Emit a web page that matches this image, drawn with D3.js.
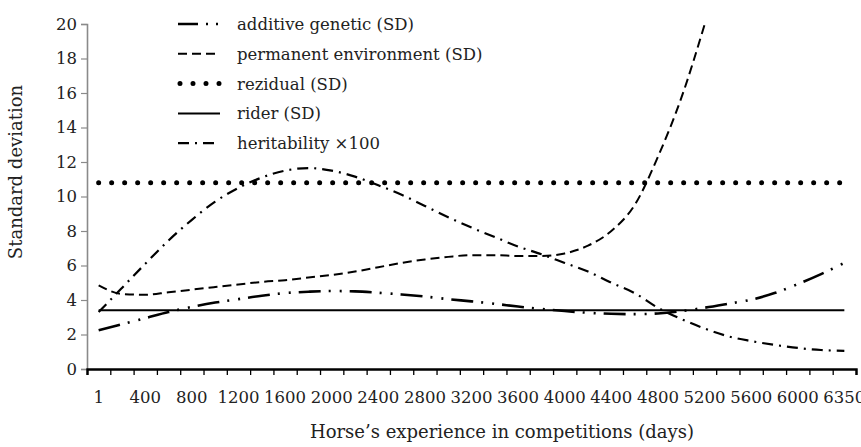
<!DOCTYPE html>
<html>
<head>
<meta charset="utf-8">
<script src="https://cdn.jsdelivr.net/npm/d3@7"></script>
<style>
  body { margin: 0; background: #fff; }
  text { font-family: "DejaVu Serif", serif; fill: #222; }
</style>
</head>
<body>
<div id="chart"></div>
<script>
// Horse experience vs standard deviation components
const categories = ["1", "200", "400", "600", "800", "1000", "1200", "1400", "1600", "1800",
  "2000", "2200", "2400", "2600", "2800", "3000", "3200", "3400", "3600", "3800",
  "4000", "4200", "4400", "4600", "4800", "5000", "5200", "5400", "5600", "5800",
  "6000", "6200", "6350"];
const xTickLabels = ["1", "400", "800", "1200", "1600", "2000", "2400", "2800", "3200", "3600",
  "4000", "4400", "4800", "5200", "5600", "6000", "6350"];
const yTicks = [0, 2, 4, 6, 8, 10, 12, 14, 16, 18, 20];

const additiveGenetic = [2.25, 2.6, 2.95, 3.3, 3.6, 3.85, 4.05, 4.25, 4.4, 4.48,
  4.52, 4.5, 4.42, 4.32, 4.2, 4.05, 3.92, 3.78, 3.62, 3.48,
  3.36, 3.26, 3.2, 3.18, 3.22, 3.35, 3.55, 3.78, 4.02, 4.4,
  4.92, 5.5, 6.15];
const permanentEnv = [4.85, 4.35, 4.3, 4.45, 4.6, 4.75, 4.9, 5.05, 5.15, 5.3,
  5.45, 5.65, 5.9, 6.15, 6.35, 6.5, 6.6, 6.6, 6.55, 6.55,
  6.7, 7.15, 8.0, 9.5, 12.3, 15.7, 19.95, null, null, null,
  null, null, null];
const residual = categories.map(() => 10.8);
const rider = categories.map(() => 3.4);
const heritability = [3.3, 4.7, 6.1, 7.45, 8.65, 9.7, 10.5, 11.1, 11.5, 11.65,
  11.5, 11.15, 10.65, 10.1, 9.45, 8.8, 8.2, 7.65, 7.1, 6.65,
  6.15, 5.65, 5.0, 4.4, 3.55, 2.9, 2.35, 1.9, 1.62, 1.4,
  1.22, 1.1, 1.05];

const series = [
  { name: "additive genetic (SD)", values: additiveGenetic, dash: "22 8 2 9 2 8", width: 2.6, cap: "butt" },
  { name: "permanent environment (SD)", values: permanentEnv, dash: "9 5", width: 2, cap: "butt" },
  { name: "rezidual (SD)", values: residual, dash: "0 13", width: 5, cap: "round" },
  { name: "rider (SD)", values: rider, dash: null, width: 2, cap: "butt" },
  { name: "heritability \u00d7100", values: heritability, dash: "11 6 2 6", width: 2.2, cap: "butt" }
];

const W = 861, H = 447;
const margin = { top: 24, right: 5, bottom: 78, left: 87 };
const width = W - margin.left - margin.right;
const height = H - margin.top - margin.bottom;
const fontSize = "16.5px";

const svgRoot = d3.select("#chart").append("svg")
  .attr("width", W)
  .attr("height", H);

const svg = svgRoot.append("g")
  .attr("transform", `translate(${margin.left},${margin.top})`);

const x = d3.scaleBand().domain(categories).range([0, width]).padding(0);
const xEdge = d3.scaleLinear().domain([0, categories.length]).range([0, width]);
const y = d3.scaleLinear().domain([0, 20]).range([height, 0]);

// y axis (grey)
const yAxis = svg.append("g")
  .call(d3.axisLeft(y).tickValues(yTicks).tickSize(6).tickPadding(4));
yAxis.select(".domain").attr("stroke", "#8a8a8a").attr("stroke-width", 1.6);
yAxis.selectAll(".tick line").attr("stroke", "#8a8a8a").attr("stroke-width", 1.2);
yAxis.selectAll(".tick text").style("font-size", fontSize);

// x axis ticks at band edges
const xTicks = svg.append("g")
  .attr("transform", `translate(0,${height})`)
  .call(d3.axisBottom(xEdge).tickValues(d3.range(categories.length + 1)).tickSize(6).tickFormat(""));
xTicks.select(".domain").attr("stroke", "#000").attr("stroke-width", 2.4);
xTicks.selectAll(".tick line").attr("stroke", "#000").attr("stroke-width", 1.3);

// x labels at band centers
const xLabels = svg.append("g")
  .attr("transform", `translate(0,${height})`)
  .call(d3.axisBottom(x).tickValues(xTickLabels).tickSize(0).tickPadding(22));
xLabels.select(".domain").remove();
xLabels.selectAll(".tick text").style("font-size", fontSize);

// axis titles
svgRoot.append("text")
  .attr("transform", "translate(22,172) rotate(-90)")
  .attr("text-anchor", "middle")
  .style("font-size", "18px")
  .text("Standard deviation");

svgRoot.append("text")
  .attr("x", 502)
  .attr("y", 438)
  .attr("text-anchor", "middle")
  .style("font-size", "18px")
  .text("Horse\u2019s experience in competitions (days)");

// lines
const line = d3.line()
  .defined(d => d != null)
  .x((d, i) => x(categories[i]) + x.bandwidth() / 2)
  .y(d => y(d))
  .curve(d3.curveMonotoneX);

svg.selectAll(".series")
  .data(series)
  .enter()
  .append("path")
  .attr("class", "series")
  .attr("fill", "none")
  .attr("stroke", "#000")
  .attr("stroke-width", d => d.width)
  .attr("stroke-linecap", d => d.cap)
  .attr("stroke-dasharray", d => d.dash)
  .attr("d", d => line(d.values));

// legend
const legend = svgRoot.selectAll(".legend")
  .data(series)
  .enter()
  .append("g")
  .attr("class", "legend")
  .attr("transform", (d, i) => `translate(178, ${24 + i * 29.8})`);

legend.append("line")
  .attr("x1", d => d.cap === "round" ? 2 : 0)
  .attr("x2", 42)
  .attr("stroke", "#000")
  .attr("stroke-width", d => d.width)
  .attr("stroke-linecap", d => d.cap)
  .attr("stroke-dasharray", d => d.dash === "22 8 2 9 2 8" ? "20 8 2 8 2 8" : d.dash);

legend.append("text")
  .attr("x", 59)
  .attr("y", 6)
  .style("font-size", fontSize)
  .text(d => d.name);
</script>
</body>
</html>
